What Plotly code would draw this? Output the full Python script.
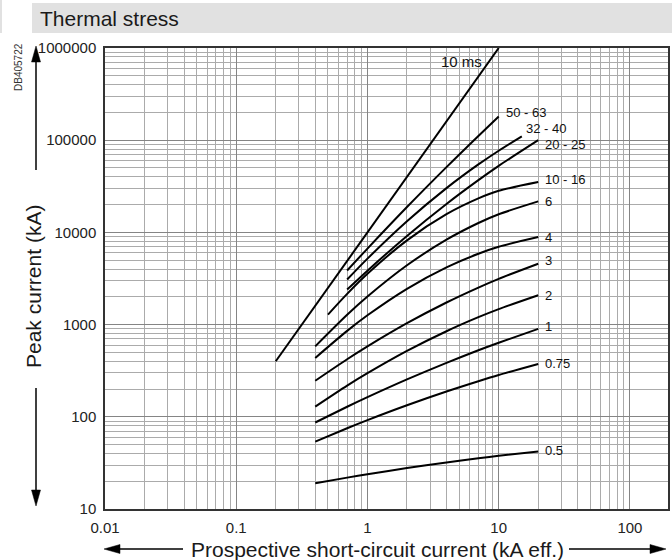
import math
import plotly.graph_objects as go

# ---------------- data ----------------
x_tick_vals = [0.01, 0.1, 1, 10, 100]
x_tick_text = ["0.01", "0.1", "1", "10", "100"]
y_tick_vals = [10, 100, 1000, 10000, 100000, 1000000]
y_tick_text = ["10", "100", "1000", "10000", "100000", "1000000"]

x_10ms = [0.2, 10]
y_10ms = [400, 1000000]

x_5063 = [0.7, 1, 2, 4, 7, 10]
y_5063 = [3864, 6680, 18840, 51050, 111200, 181000]

x_3240 = [0.7, 1, 2, 4, 7, 10, 15]
y_3240 = [3083, 5194, 13210, 30200, 54600, 76900, 110000]

x_2025 = [0.7, 1, 2, 4, 7, 10, 20]
y_2025 = [2400, 3848, 9160, 20360, 36900, 52700, 100000]

x_1016 = [0.5, 0.7, 1, 2, 4, 7, 10, 20]
y_1016 = [1285, 2155, 3556, 8200, 15770, 23380, 28250, 35200]

x_low = [0.4, 0.7, 1, 2, 4, 7, 10, 20]
y_6 = [581, 1277, 2015, 4397, 8340, 12650, 15740, 21700]
y_4 = [435, 855, 1262, 2445, 4175, 5867, 6982, 8900]
y_3 = [246, 421, 580, 1035, 1737, 2522, 3136, 4570]
y_2 = [129, 218, 297, 518, 847, 1203, 1472, 2080]
y_1 = [86.7, 128.5, 163.4, 254.6, 385, 527, 636, 898]
y_075 = [53.9, 75.2, 92.1, 133.4, 188, 243, 284, 374]
y_05 = [19, 21.9, 23.8, 27.8, 32.0, 35.5, 37.8, 42]

series = [
    ("50 - 63", x_5063, y_5063, 5, 4),
    ("32 - 40", x_3240, y_3240, 2, 8),
    ("20 - 25", x_2025, y_2025, 5, -4),
    ("10 - 16", x_1016, y_1016, 5, 3),
    ("6", x_low, y_6, 5, 0),
    ("4", x_low, y_4, 5, 0),
    ("3", x_low, y_3, 5, 3),
    ("2", x_low, y_2, 5, 0),
    ("1", x_low, y_1, 5, 2),
    ("0.75", x_low, y_075, 5, 0),
    ("0.5", x_low, y_05, 5, 1),
]

# ---------------- layout geometry ----------------
W, H = 672, 560
ML, MR, MT, MB = 105, 4, 48, 51
PW, PH = W - ML - MR, H - MT - MB
FONT = "Liberation Sans, Arial, Helvetica, sans-serif"


def px(xp):
    return (xp - ML) / PW


def py(yp):
    return (H - MB - yp) / PH


fig = go.Figure()

fig.add_trace(go.Scatter(x=x_10ms, y=y_10ms, mode="lines",
                         line=dict(color="#000", width=2), hoverinfo="skip"))
for name, xs, ys, _, _ in series:
    fig.add_trace(go.Scatter(x=xs, y=ys, mode="lines", name=name,
                             line=dict(color="#000", width=2, shape="spline", smoothing=0.8),
                             hoverinfo="skip"))

annotations = []
# curve labels
for name, xs, ys, xs_, ys_ in series:
    annotations.append(dict(x=math.log10(xs[-1]), y=math.log10(ys[-1]), xref="x", yref="y",
                            text=name, showarrow=False, xanchor="left", yanchor="middle",
                            xshift=xs_, yshift=ys_, font=dict(family=FONT, size=13, color="#111")))
annotations.append(dict(x=math.log10(x_10ms[-1]), y=math.log10(y_10ms[-1]), xref="x", yref="y",
                        text="10 ms", showarrow=False, xanchor="right", yanchor="middle",
                        xshift=-15, yshift=-13, font=dict(family=FONT, size=15, color="#111")))

# title bar text
annotations.append(dict(x=px(38), y=py(18), xref="paper", yref="paper", text="Thermal stress",
                        showarrow=False, xanchor="left", yanchor="middle",
                        font=dict(family=FONT, size=21, color="#1a1a1a")))
# code
annotations.append(dict(x=px(18), y=py(67), xref="paper", yref="paper", text="DB405722",
                        showarrow=False, textangle=-90, xanchor="center", yanchor="middle",
                        font=dict(family=FONT, size=10, color="#333")))
# axis titles
annotations.append(dict(x=px(33), y=py(287), xref="paper", yref="paper", text="Peak current (kA)",
                        showarrow=False, textangle=-90, xanchor="center", yanchor="middle",
                        font=dict(family=FONT, size=21, color="#1a1a1a")))
annotations.append(dict(x=px(377), y=py(549), xref="paper", yref="paper",
                        text="Prospective short-circuit current (kA eff.)",
                        showarrow=False, xanchor="center", yanchor="middle",
                        font=dict(family=FONT, size=21, color="#1a1a1a")))

shapes = []
# title bar
shapes.append(dict(type="rect", xref="paper", yref="paper", x0=px(32), x1=px(672),
                   y0=py(33), y1=py(3), fillcolor="#e1e1e1", line=dict(width=0), layer="below"))
shapes.append(dict(type="rect", xref="paper", yref="paper", x0=px(0), x1=px(2),
                   y0=py(33), y1=py(0), fillcolor="#e1e1e1", line=dict(width=0), layer="below"))


def line(x0, y0, x1, y1):
    shapes.append(dict(type="line", xref="paper", yref="paper", x0=px(x0), y0=py(y0),
                       x1=px(x1), y1=py(y1), line=dict(color="#000", width=1.5)))


def tri(p1, p2, p3):
    path = "M {} {} L {} {} L {} {} Z".format(px(p1[0]), py(p1[1]), px(p2[0]), py(p2[1]),
                                             px(p3[0]), py(p3[1]))
    shapes.append(dict(type="path", xref="paper", yref="paper", path=path,
                       fillcolor="#000", line=dict(color="#000", width=0.5)))


# y arrows
line(36, 60, 36, 170)
tri((36, 46), (31.5, 62), (40.5, 62))
line(36, 388, 36, 492)
tri((36, 506), (31.5, 490), (40.5, 490))
# x arrows
line(118, 549, 183, 549)
tri((104, 549), (120, 544.5), (120, 553.5))
line(569, 549, 652, 549)
tri((666, 549), (650, 544.5), (650, 553.5))

axis_common = dict(
    type="log", showline=True, mirror=True, linecolor="#333", linewidth=1.5,
    showgrid=True, gridcolor="#858585", gridwidth=1, zeroline=False,
    ticks="", tickfont=dict(family=FONT, size=15, color="#222"),
    minor=dict(showgrid=True, gridcolor="#ababab", gridwidth=1, dtick="D1", ticks=""),
)

fig.update_layout(
    width=W, height=H, margin=dict(l=ML, r=MR, t=MT, b=MB, autoexpand=False),
    paper_bgcolor="#fff", plot_bgcolor="#fff", showlegend=False,
    annotations=annotations, shapes=shapes,
    xaxis=dict(range=[-2, 2.29], tickvals=x_tick_vals, ticktext=x_tick_text,
               ticklabelstandoff=4, **axis_common),
    yaxis=dict(range=[1, 6], tickvals=y_tick_vals, ticktext=y_tick_text,
               ticklabelstandoff=4, **axis_common),
)

fig.write_html("out.html", config={"displayModeBar": False},
               post_script="document.body.style.margin='0px';document.body.style.padding='0px';")
